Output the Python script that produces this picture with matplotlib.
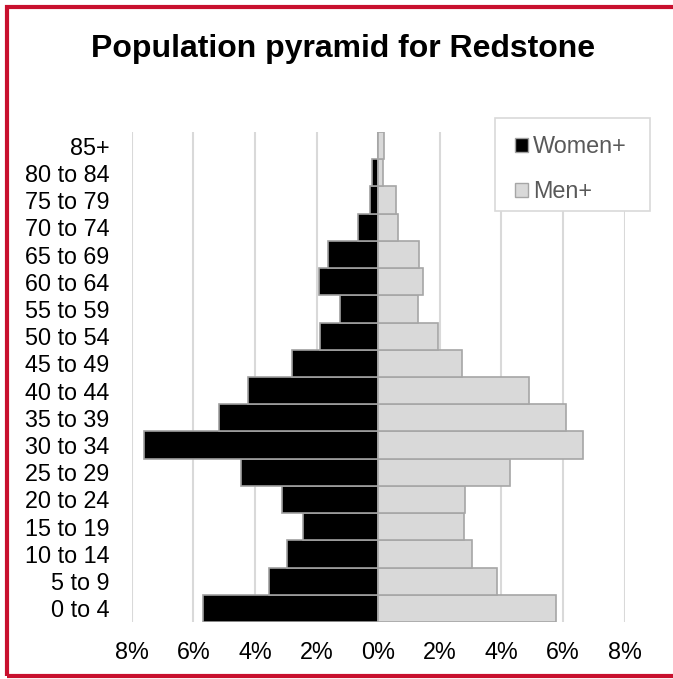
import matplotlib
matplotlib.use("Agg")
import matplotlib.pyplot as plt
from matplotlib.patches import Patch, Rectangle
import numpy as np

plt.rcParams['font.family'] = ['Liberation Sans', 'DejaVu Sans']

age_groups = ["0 to 4", "5 to 9", "10 to 14", "15 to 19", "20 to 24", "25 to 29",
              "30 to 34", "35 to 39", "40 to 44", "45 to 49", "50 to 54", "55 to 59",
              "60 to 64", "65 to 69", "70 to 74", "75 to 79", "80 to 84", "85+"]
women = [5.67, 3.56, 2.95, 2.43, 3.11, 4.45, 7.6, 5.17, 4.23, 2.79, 1.9, 1.24,
         1.91, 1.64, 0.64, 0.27, 0.19, 0.0]
men = [5.76, 3.87, 3.05, 2.77, 2.83, 4.28, 6.65, 6.1, 4.89, 2.73, 1.94, 1.29,
       1.44, 1.34, 0.63, 0.57, 0.14, 0.19]
xticks = [-8, -6, -4, -2, 0, 2, 4, 6, 8]
xticklabels = ["8%", "6%", "4%", "2%", "0%", "2%", "4%", "6%", "8%"]

fig = plt.figure(figsize=(6.73, 6.79), dpi=100)
ax = fig.add_axes([131.7/673, 1-622/679, (624.7-131.7)/673, (622-132)/679])

y = np.arange(len(age_groups))
ax.barh(y, [-w for w in women], height=1.0, color="black", edgecolor="#a0a0a0",
        linewidth=1.2, zorder=3, label="Women+")
ax.barh(y, men, height=1.0, color="#d9d9d9", edgecolor="#a6a6a6",
        linewidth=1.2, zorder=3, label="Men+")

ax.set_xlim(-8, 8)
ax.set_ylim(-0.5, len(age_groups) - 0.5)
ax.set_xticks(xticks)
ax.set_xticklabels(xticklabels)
ax.set_yticks(y)
ax.set_yticklabels(age_groups)
ax.tick_params(axis='both', length=0, labelsize=16.8, colors='black')
ax.tick_params(axis='y', pad=16)
ax.tick_params(axis='x', pad=14)
ax.grid(axis='x', color="#d9d9d9", linewidth=1.5, zorder=0)
for s in ax.spines.values():
    s.set_visible(False)

fig.text(343/673, 1-49/679, "Population pyramid for Redstone", ha='center', va='center',
         fontsize=23, fontweight='bold', color='black')

# legend box
fig.patches.append(Rectangle((495/673, 1-211/679), (650-495)/673, (211-118)/679,
                             transform=fig.transFigure, facecolor='white',
                             edgecolor='#d9d9d9', linewidth=1.2, zorder=4))
handles = [Patch(facecolor='black', edgecolor='#a0a0a0', label='Women+'),
           Patch(facecolor='#d9d9d9', edgecolor='#a6a6a6', label='Men+')]
leg = fig.legend(handles=handles, loc='upper left', bbox_to_anchor=(515/673, 1-135/679),
                 fontsize=16.8, frameon=False,
                 handlelength=0.55, handleheight=0.55, handletextpad=0.22,
                 labelspacing=0.94, borderpad=0, borderaxespad=0, labelcolor='#595959')
leg.set_zorder(5)

fig.patches.append(Rectangle((7/673, 3/679), 1.0, 1-10/679, transform=fig.transFigure,
                             fill=False, edgecolor='#c8102e', linewidth=3, zorder=10))

fig.savefig("out.png", dpi=100)
